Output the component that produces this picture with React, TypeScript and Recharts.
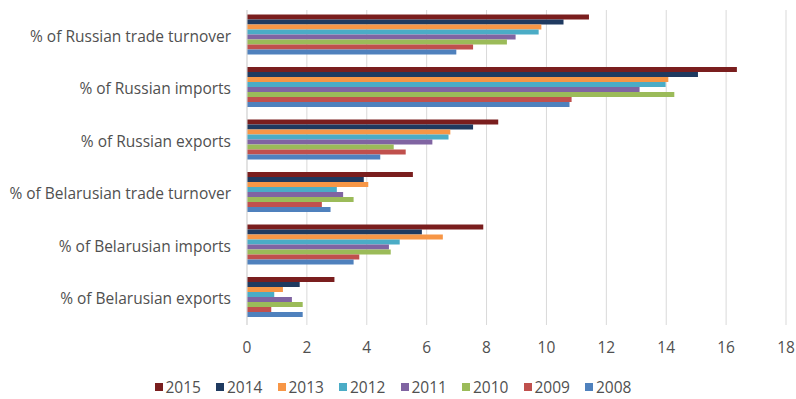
import React from "react";
import { BarChart, Bar, XAxis, YAxis, CartesianGrid, Legend } from "recharts";

const categories = [
  "% of Russian trade turnover",
  "% of Russian imports",
  "% of Russian exports",
  "% of Belarusian trade turnover",
  "% of Belarusian imports",
  "% of Belarusian exports",
];

const years = ["2015", "2014", "2013", "2012", "2011", "2010", "2009", "2008"];

const v2015 = [11.42, 16.36, 8.39, 5.54, 7.89, 2.92];
const v2014 = [10.57, 15.06, 7.55, 3.9, 5.84, 1.76];
const v2013 = [9.83, 14.07, 6.79, 4.05, 6.54, 1.2];
const v2012 = [9.74, 13.98, 6.73, 3.0, 5.1, 0.91];
const v2011 = [8.97, 13.11, 6.19, 3.21, 4.74, 1.5];
const v2010 = [8.68, 14.27, 4.9, 3.56, 4.8, 1.86];
const v2009 = [7.55, 10.84, 5.3, 2.5, 3.75, 0.81];
const v2008 = [6.99, 10.77, 4.45, 2.79, 3.56, 1.86];

const seriesValues = [v2015, v2014, v2013, v2012, v2011, v2010, v2009, v2008];

const colors = [
  "#7a1e1e",
  "#1f3a60",
  "#f79646",
  "#4bacc6",
  "#8064a2",
  "#9bbb59",
  "#c0504d",
  "#4f81bd",
];

const xTicks = [0, 2, 4, 6, 8, 10, 12, 14, 16, 18];

const data = categories.map((name, i) => {
  const row: Record<string, string | number> = { name };
  years.forEach((y, k) => {
    row[y] = seriesValues[k][i];
  });
  return row;
});

const FONT = "'Open Sans', 'Noto Sans', sans-serif";
const TEXT = "#505050";
const FS = 15.5;

const renderLegend = (props: any) => {
  const payload = [...(props.payload || [])].sort(
    (a: any, b: any) => years.indexOf(String(a.value)) - years.indexOf(String(b.value))
  );
  return (
    <div
      style={{
        display: "flex",
        justifyContent: "center",
        fontFamily: FONT,
        fontSize: FS,
        color: TEXT,
        height: 20,
        lineHeight: "20px",
        paddingLeft: 15,
      }}
    >
      {payload.map((p: any) => (
        <div
          key={p.value}
          style={{ display: "flex", alignItems: "center", width: 61.5 }}
        >
          <span
            style={{
              display: "inline-block",
              width: 8,
              height: 8,
              background: p.color,
              marginRight: 3,
            }}
          />
          <span>{p.value}</span>
        </div>
      ))}
    </div>
  );
};

export default function App() {
  return (
    <div style={{ position: "absolute", left: 0, top: 0, background: "#fff" }}>
      <BarChart
        width={796}
        height={399}
        data={data}
        layout="vertical"
        margin={{ top: 10, right: 10, left: 0, bottom: 2 }}
        barCategoryGap={4.5}
        barGap={0}
      >
        <CartesianGrid horizontal={false} vertical stroke="#d9d9d9" />
        <XAxis
          type="number"
          domain={[0, 18]}
          ticks={xTicks}
          interval={0}
          axisLine={false}
          tickLine={false}
          tickSize={0}
          tickMargin={17}
          height={52}
          tick={{ fill: TEXT, fontSize: FS, fontFamily: FONT }}
        />
        <YAxis
          type="category"
          dataKey="name"
          width={247}
          axisLine={{ stroke: "#d9d9d9" }}
          tickLine={false}
          tickSize={0}
          tickMargin={16}
          tick={{ fill: TEXT, fontSize: FS, fontFamily: FONT }}
        />
        <Legend verticalAlign="bottom" content={renderLegend} />
        {years.map((y, k) => (
          <Bar
            key={y}
            dataKey={y}
            fill={colors[k]}
            isAnimationActive={false}
          />
        ))}
      </BarChart>
    </div>
  );
}
